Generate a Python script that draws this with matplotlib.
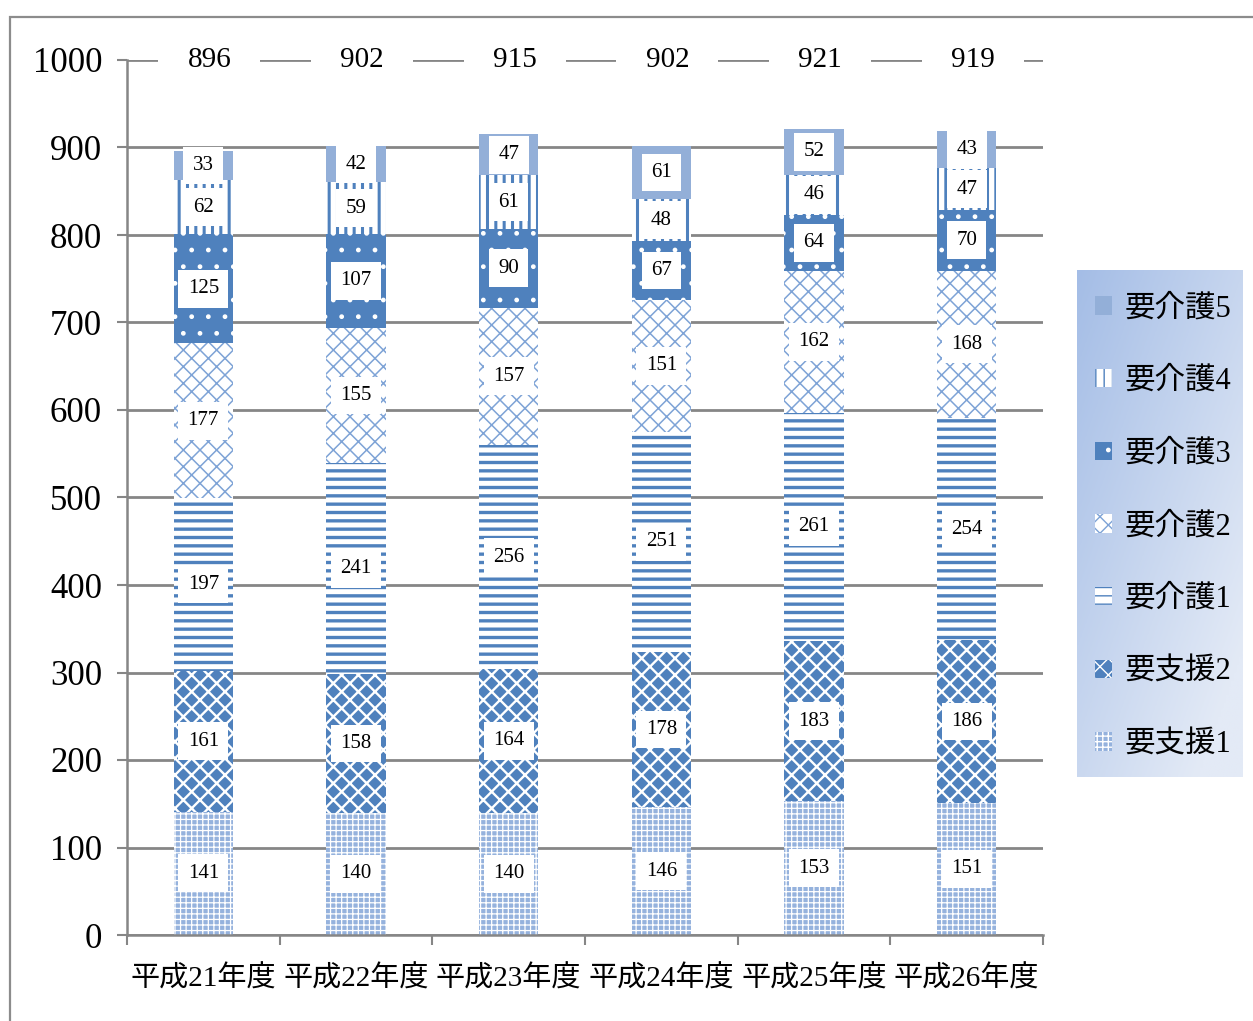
import matplotlib
matplotlib.use("Agg")
import matplotlib.pyplot as plt
import numpy as np
from matplotlib.patches import Rectangle

categories = ["平成21年度", "平成22年度", "平成23年度", "平成24年度", "平成25年度", "平成26年度"]
series_names = ["要支援1", "要支援2", "要介護1", "要介護2", "要介護3", "要介護4", "要介護5"]
shien1 = [141, 140, 140, 146, 153, 151]
shien2 = [161, 158, 164, 178, 183, 186]
kaigo1 = [197, 241, 256, 251, 261, 254]
kaigo2 = [177, 155, 157, 151, 162, 168]
kaigo3 = [125, 107, 90, 67, 64, 70]
kaigo4 = [62, 59, 61, 48, 46, 47]
kaigo5 = [33, 42, 47, 61, 52, 43]
totals = [896, 902, 915, 902, 921, 919]
yticks = [0, 100, 200, 300, 400, 500, 600, 700, 800, 900, 1000]

series = [shien1, shien2, kaigo1, kaigo2, kaigo3, kaigo4, kaigo5]
# (facecolor, hatchcolor, hatch, hatch linewidth)
styles = [
    ("#95b2dd", "#ffffff", "+++", 0.9),
    ("#4f81bd", "#ffffff", "xx", 1.7),
    ("#ffffff", "#4f81bd", "--", 2.4),
    ("#ffffff", "#7ea3d6", "xx", 1.1),
    ("#4f81bd", "#ffffff", ".", 1.0),
    ("#ffffff", "#4f81bd", "||", 2.2),
    ("#93afd8", "#93afd8", None, 1.0),
]

NUMF = ["Liberation Serif", "Noto Sans CJK JP"]
GRAY = "#868686"

W, H = 1253, 1021
fig = plt.figure(figsize=(W / 100, H / 100), dpi=100)
fig.patch.set_facecolor("white")

# outer chart frame
fig.patches.append(Rectangle((10 / W, -0.05), 1.2, 1 - 17 / H + 0.05,
                             transform=fig.transFigure, fill=False,
                             edgecolor="#8c8c8c", linewidth=1.6))

ax = fig.add_axes([127 / W, 1 - 935 / H, (1043 - 127) / W, (935 - 60) / H])
x = np.arange(len(categories))
bottom = np.zeros(len(categories))
handles = []
for vals, (fc, hc, hatch, hlw), name in zip(series, styles, series_names):
    with plt.rc_context({"hatch.linewidth": hlw}):
        bars = ax.bar(x, vals, width=0.39, bottom=bottom, color=fc,
                      edgecolor=hc, linewidth=0, hatch=hatch, zorder=2, label=name)
    for p in bars:
        if hasattr(p, "set_hatch_linewidth"):
            p.set_hatch_linewidth(hlw)
    handles.append(bars)
    for xi, b, v in zip(x, bottom, vals):
        ax.text(xi, b + v / 2, str(v), ha="center", va="center", fontsize=15,
                family=NUMF, zorder=4,
                bbox=dict(boxstyle="square,pad=0.45", fc="white", ec="none"))
    bottom = bottom + np.array(vals)

# total labels along the 1000 line
for xi, t in zip(x, totals):
    ax.text(xi + 0.04, 1000, str(t), ha="center", va="center", fontsize=21,
            family=NUMF, zorder=4, clip_on=False,
            bbox=dict(boxstyle="square,pad=1.0", fc="white", ec="none"))

ax.set_xlim(-0.5, len(categories) - 0.5)
ax.set_ylim(0, 1000)
ax.set_yticks(yticks)
ax.set_yticklabels([str(v) for v in yticks], family=NUMF, fontsize=25)
ax.yaxis.grid(True, color=GRAY, linewidth=2.0, zorder=0)
ax.set_axisbelow(True)
for s in ["top", "right"]:
    ax.spines[s].set_visible(False)
for s in ["left", "bottom"]:
    ax.spines[s].set_color(GRAY)
    ax.spines[s].set_linewidth(1.8)
ax.tick_params(axis="y", length=7, width=1.5, color=GRAY, pad=11)
ax.set_xticks(np.arange(-0.5, len(categories), 1.0))
ax.set_xticklabels([])
ax.tick_params(axis="x", which="major", length=7, width=1.5, color=GRAY, direction="out")
ax.set_xticks(x, minor=True)
ax.set_xticklabels(categories, minor=True, family=NUMF, fontsize=21)
ax.tick_params(axis="x", which="minor", length=0, pad=22)

# legend background gradient
lx0, lx1, ly0, ly1 = 1077, 1243, 270, 777
lax = fig.add_axes([lx0 / W, 1 - ly1 / H, (lx1 - lx0) / W, (ly1 - ly0) / H])
gx, gy = np.meshgrid(np.linspace(0, 1, 64), np.linspace(0, 1, 256))
tgrad = np.clip(0.55 * gx + 0.6 * gy, 0, 1)
c0 = np.array([0xa4, 0xbd, 0xe6]) / 255
c1 = np.array([0xe3, 0xea, 0xf6]) / 255
img = c0[None, None, :] * (1 - tgrad[..., None]) + c1[None, None, :] * tgrad[..., None]
lax.imshow(img, aspect="auto", extent=[0, 1, 0, 1], origin="upper")
lax.set_axis_off()

leg = fig.legend(handles[::-1], series_names[::-1], loc="upper left",
                 bbox_to_anchor=(1083 / W, 1 - 282 / H), frameon=False,
                 prop={"family": NUMF, "size": 22}, handlelength=0.55,
                 handleheight=0.55, handletextpad=0.4, labelspacing=1.43,
                 borderaxespad=0)

fig.savefig("out.png", dpi=100, facecolor="white")
